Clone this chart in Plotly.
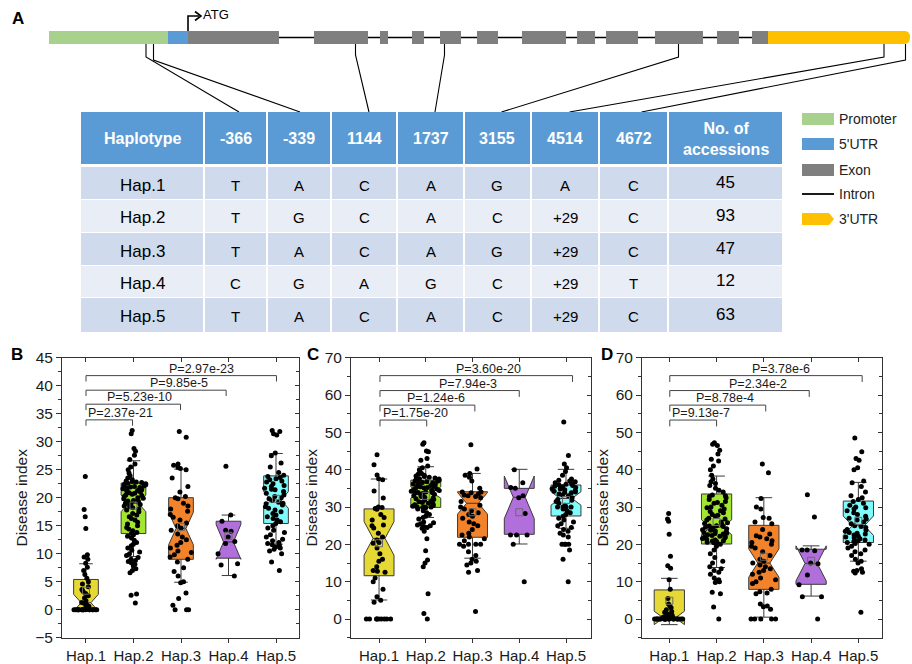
import plotly.graph_objects as go

W, H = 912, 664
FONT = "Liberation Sans, Arial, Helvetica, sans-serif"
NARROW = "Liberation Sans Narrow, Arial Narrow, Liberation Sans, sans-serif"


def X(px):
    return px / W


def Y(py):
    return 1 - py / H


# ---------------- data ----------------
haplotypes = ["Hap.1", "Hap.2", "Hap.3", "Hap.4", "Hap.5"]
snp_sites = ["-366", "-339", "1144", "1737", "3155", "4514", "4672"]
alleles = [
    ["T", "A", "C", "A", "G", "A", "C"],
    ["T", "G", "C", "A", "C", "+29", "C"],
    ["T", "A", "C", "A", "G", "+29", "C"],
    ["C", "G", "A", "G", "C", "+29", "T"],
    ["T", "A", "C", "A", "C", "+29", "C"],
]
accessions = [45, 93, 47, 12, 63]
legend_items = ["Promoter", "5'UTR", "Exon", "Intron", "3'UTR"]

# Panel B disease index
B_hap1 = [23.8, 17.9, 16.6, 14.5, 9.8, 9.4, 9.0, 8.3, 7.6, 7.0, 6.3, 5.6, 5.0, 4.6, 4.1, 3.6, 3.3,
          2.9, 2.5, 2.1, 1.6, 1.3, 1.1, 0.9, 0.6, 0.4] + [0.0] * 19
B_hap2 = [32.0, 31.4, 28.8, 28.3, 27.6, 26.8, 26.0, 25.5, 25.0, 24.4, 23.9, 23.5,
          23.2, 23.0, 22.9, 22.7, 22.6, 22.5, 22.4, 22.3, 22.2, 22.1, 22.0, 21.9, 21.8,
          21.6, 21.4, 21.2, 21.0, 20.8, 20.6, 20.4, 20.2, 20.0, 19.8, 19.6, 19.4, 19.2, 19.0,
          18.8, 18.6, 18.4, 18.2, 18.0, 22.8, 21.7, 21.3, 20.9, 20.5, 19.9, 19.5, 18.9, 18.5,
          17.8, 17.5, 17.2, 16.9, 16.6, 16.3, 16.0, 15.6, 15.3, 15.0, 14.7, 14.4, 14.1, 13.8,
          13.6, 13.4, 13.1, 12.8, 12.4, 12.0, 11.7, 11.4, 11.0, 10.6, 10.3, 10.0, 9.7, 9.3,
          9.0, 8.8, 8.6, 8.4, 8.1, 7.8, 7.3, 7.0, 6.6, 2.8, 2.6, 1.2]
B_hap3 = [31.8, 30.8, 26.0, 25.8, 25.4, 25.2, 25.0, 23.5, 22.0, 21.0, 20.2, 20.0, 19.8,
          19.0, 18.5, 18.0, 17.6, 17.0, 16.5, 16.0, 15.5, 15.0, 14.6, 14.2, 13.5, 13.0,
          12.5, 12.0, 11.5, 11.0, 10.5, 10.2, 9.8, 9.4, 9.0, 8.5, 7.5, 6.8, 6.0, 5.0, 4.8,
          3.0, 2.0, 0.8, 0.0, 0.0, 0.0]
B_hap4 = [25.6, 16.9, 15.8, 14.2, 14.0, 13.0, 12.2, 11.8, 10.0, 8.2, 8.0, 6.0]
B_hap5 = [32.0, 31.8, 31.4, 31.2, 28.0, 27.5, 26.2, 25.5, 24.5, 24.0, 23.8, 23.6, 23.4,
          23.2, 23.0, 22.8, 22.5, 22.2, 22.0, 21.7, 21.4, 21.1, 20.8, 20.5, 20.2, 20.0,
          19.8, 19.5, 19.2, 19.0, 18.7, 18.4, 18.1, 17.8, 17.5, 17.2, 16.9, 16.6, 16.3,
          16.0, 15.7, 15.4, 15.0, 14.6, 14.2, 13.8, 13.4, 13.0, 12.6, 12.3, 12.0, 11.8,
          11.6, 11.5, 11.2, 11.0, 10.8, 10.5, 10.0, 8.5, 7.0, 21.5, 18.9]
B_q1 = [0.0, 13.6, 9.0, 9.2, 15.4]
B_median = [1.25, 19.0, 14.5, 12.1, 19.6]
B_q3 = [5.4, 22.6, 20.0, 15.8, 23.9]
B_lower = [0.0, 9.5, 4.9, 6.1, 11.7]
B_upper = [8.2, 26.6, 25.1, 16.9, 27.9]
B_notch = [1.5, 1.5, 2.9, 3.1, 1.5]
B_mean = [3.4, 18.6, 14.8, 13.2, 19.8]
B_pvalues = ["P=2.37e-21", "P=5.23e-10", "P=9.85e-5", "P=2.97e-23"]

# Panel C disease index
C_hap1 = [44.0, 41.3, 38.6, 37.6, 37.3, 34.3, 32.4, 30.0, 29.9, 29.6, 29.4, 28.0, 27.2,
          26.5, 25.2, 25.0, 24.4, 23.0, 22.0, 21.2, 20.5, 20.3, 19.0, 17.5, 16.0, 15.5,
          14.0, 13.0, 12.8, 12.5, 11.0, 10.0, 8.0, 6.0, 5.0, 4.5] + [0.0] * 9
C_hap2 = [47.2, 46.8, 45.0, 44.8, 43.0, 42.5, 41.0, 40.5, 40.0, 39.5, 39.0, 38.8, 38.5,
          38.2, 38.0, 37.8, 37.6, 37.4, 37.2, 37.0, 36.8, 36.6, 36.4, 36.2, 36.0, 35.8,
          35.6, 35.4, 35.2, 35.0, 34.8, 34.6, 34.4, 34.2, 34.0, 33.9, 33.8, 37.5, 36.5,
          35.5, 34.5, 34.1, 33.8, 35.1, 36.9, 38.3, 33.6, 33.4, 33.2, 33.0, 32.8, 32.6,
          32.4, 32.2, 32.0, 31.8, 31.6, 31.4, 31.2, 31.0, 30.8, 30.6, 30.4, 30.2, 30.0,
          30.0, 29.9, 29.8, 30.1, 29.5, 29.0, 28.5, 28.0, 27.5, 27.2, 26.8, 26.0, 25.8,
          25.5, 25.2, 25.0, 24.8, 24.5, 24.3, 21.5, 18.3, 15.8, 15.0, 14.0, 6.8, 1.5, 0.0,
          23.5]
C_hap3 = [46.7, 40.2, 39.0, 38.5, 38.0, 37.0, 35.0, 34.0, 34.0, 33.8, 33.5, 33.2, 33.0,
          32.8, 32.5, 31.5, 30.5, 30.0, 29.5, 29.0, 28.5, 28.0, 27.0, 26.0, 25.0, 24.0,
          23.0, 22.0, 21.5, 20.0, 20.0, 20.0, 20.0, 19.5, 18.0, 17.0, 16.0, 15.5, 15.0,
          14.5, 13.0, 12.5, 25.5, 22.5, 21.0, 2.0, 27.5]
C_hap4 = [40.0, 36.5, 35.2, 35.0, 33.0, 32.5, 28.3, 22.5, 22.5, 22.5, 20.0, 10.0]
C_hap5 = [52.8, 43.8, 41.5, 40.5, 39.5, 38.5, 37.5, 37.2, 37.0, 36.8, 36.5, 36.3, 36.0,
          35.8, 35.6, 35.4, 35.2, 35.0, 34.8, 34.6, 34.4, 34.2, 34.0, 33.8, 33.5, 33.2,
          33.0, 32.5, 32.0, 31.5, 31.0, 30.5, 30.0, 30.0, 30.0, 30.0, 29.5, 29.0, 28.5,
          28.0, 27.5, 27.0, 26.5, 26.0, 25.5, 25.0, 24.5, 24.0, 23.5, 23.0, 22.5, 22.0,
          20.0, 20.0, 20.0, 20.0, 18.5, 16.0, 10.0, 36.1, 34.9, 33.9, 31.8]
C_q1 = [11.6, 29.9, 21.9, 22.7, 27.6]
C_median = [21.6, 33.9, 31.0, 32.6, 32.3]
C_q3 = [29.5, 37.2, 34.1, 35.0, 35.9]
C_lower = [5.1, 27.2, 16.3, 20.1, 24.3]
C_upper = [37.5, 40.8, 39.0, 40.1, 40.1]
C_notch = [4.5, 1.5, 2.9, 5.7, 1.8]
C_mean = [20.3, 33.0, 28.6, 28.6, 31.9]
C_pvalues = ["P=1.75e-20", "P=1.24e-6", "P=7.94e-3", "P=3.60e-20"]

# Panel D disease index
D_hap1 = [28.3, 26.8, 26.2, 22.7, 16.8, 14.3, 13.6, 10.5, 8.0, 5.5, 4.0, 3.5, 3.0, 2.5,
          2.0, 1.8, 1.5, 1.2, 1.0, 0.8, 0.6, 0.5, 0.4, 0.3, 0.2] + [0.0] * 20
D_hap2 = [47.2, 46.8, 46.5, 45.2, 44.2, 42.8, 42.3, 41.0, 40.0, 38.5, 37.5, 36.8, 36.3,
          35.8, 35.0, 34.5, 34.0, 33.2, 33.0, 32.5, 32.0, 31.5, 31.0, 30.5, 30.0, 29.5,
          29.0, 28.5, 28.0, 27.5, 27.0, 26.5, 26.0, 25.6, 25.3, 25.0, 24.8, 24.6, 24.4,
          24.2, 24.0, 23.8, 23.6, 23.4, 23.2, 23.0, 22.8, 22.6, 22.4, 22.2, 22.0, 21.8,
          21.6, 21.4, 21.2, 21.0, 20.8, 20.6, 20.4, 20.2, 20.0, 23.9, 22.9, 21.9, 20.9,
          19.5, 18.5, 17.5, 16.5, 15.5, 15.0, 14.0, 13.5, 13.0, 12.5, 12.0, 11.0, 10.5,
          10.2, 10.0, 9.8, 7.2, 6.8, 3.2, 0.0, 32.8, 31.2, 29.8, 28.8, 27.8, 26.8, 25.8,
          24.9]
D_hap3 = [41.5, 39.2, 32.3, 30.0, 29.5, 27.2, 27.0, 26.0, 25.5, 24.0, 22.8, 22.3, 22.0,
          21.5, 21.0, 20.5, 20.0, 19.5, 19.0, 18.0, 17.0, 16.0, 15.5, 15.0, 14.5, 14.0,
          13.5, 13.0, 12.5, 12.0, 11.0, 10.5, 10.0, 9.5, 8.0, 7.3, 7.0, 6.8, 4.0, 3.5,
          3.3, 2.6, 0.0, 0.0, 0.0, 0.0, 0.0]
D_hap4 = [33.3, 27.3, 18.5, 18.5, 18.3, 15.0, 14.8, 11.8, 9.2, 6.0, 6.0, 0.0]
D_hap5 = [48.5, 44.8, 43.0, 42.5, 40.5, 40.0, 37.0, 36.5, 35.5, 34.0, 33.0, 32.5, 32.0,
          31.5, 31.0, 30.5, 30.0, 29.5, 29.0, 28.5, 28.0, 27.5, 27.0, 26.5, 26.0, 25.5,
          25.0, 24.5, 24.0, 23.8, 23.5, 23.2, 23.0, 22.8, 22.5, 22.2, 22.0, 21.8, 21.5,
          21.2, 21.0, 20.8, 20.5, 20.2, 20.0, 19.5, 19.0, 18.5, 18.0, 17.5, 17.0, 16.0,
          15.5, 15.0, 13.5, 13.0, 12.8, 12.5, 12.3, 1.8, 24.8, 26.8, 29.8]
D_q1 = [0.0, 20.1, 7.95, 9.3, 20.5]
D_median = [0.3, 24.6, 15.0, 14.9, 25.0]
D_q3 = [7.8, 33.5, 25.1, 18.7, 31.6]
D_lower = [0.0, 13.8, 0.5, 6.15, 15.5]
D_upper = [10.9, 38.3, 32.5, 18.7, 36.6]
D_notch = [1.8, 2.0, 3.8, 4.7, 2.6]
D_mean = [4.9, 26.0, 16.7, 15.6, 26.3]
D_pvalues = ["P=9.13e-7", "P=8.78e-4", "P=2.34e-2", "P=3.78e-6"]

# ---------------- styles / layout geometry (pixels) ----------------
box_colors = ["#E6D835", "#A2E632", "#F2832B", "#B16FDB", "#80FBFB"]
part_colors = {"promoter": "#A9D18E", "utr5": "#5B9BD5", "exon": "#7F7F7F", "utr3": "#FFC000"}
gene_parts = [("promoter", 49, 168), ("utr5", 168, 188),
              ("exon", 188, 279), ("exon", 314, 368), ("exon", 380, 388), ("exon", 412, 424),
              ("exon", 440, 461), ("exon", 477, 498), ("exon", 522, 566), ("exon", 577, 595),
              ("exon", 606, 638), ("exon", 655, 703), ("exon", 717, 739), ("exon", 752, 768)]
utr3_span = (768, 910)
bar_top, bar_bot = 31, 44
connectors = [(146, 57, 239), (153.5, 60, 300), (355.5, 55, 369), (444.5, 55, 435),
              (678.5, 57, 501.5), (884, 57, 569.5), (905.5, 60, 641.5)]
col_edges = [80, 204, 267, 331, 397, 464, 531, 599, 668, 783]
header_span = (112, 164)
row_spans = [(167, 199), (200, 232), (233, 265), (266, 297), (298, 332)]
row_fills = ["#CFDAEC", "#E9EDF6", "#CFDAEC", "#E9EDF6", "#CFDAEC"]

fig = go.Figure()
shapes = []
annotations = []

# ---- Panel A: gene model ----
shapes.append(dict(type="line", xref="paper", yref="paper", x0=X(279), x1=X(768),
                   y0=Y((bar_top + bar_bot) / 2), y1=Y((bar_top + bar_bot) / 2),
                   line=dict(color="black", width=1.6)))
for kind, a, b in gene_parts:
    shapes.append(dict(type="rect", xref="paper", yref="paper", x0=X(a), x1=X(b),
                       y0=Y(bar_bot), y1=Y(bar_top), fillcolor=part_colors[kind],
                       line=dict(width=0)))
u0, u1 = utr3_span
shapes.append(dict(type="path", xref="paper", yref="paper",
                   path=(f"M {X(u0)},{Y(bar_top)} L {X(u1-5)},{Y(bar_top)} "
                         f"Q {X(u1)},{Y(bar_top)} {X(u1)},{Y((bar_top+bar_bot)/2)} "
                         f"Q {X(u1)},{Y(bar_bot)} {X(u1-5)},{Y(bar_bot)} L {X(u0)},{Y(bar_bot)} Z"),
                   fillcolor=part_colors["utr3"], line=dict(width=0)))
# ATG arrow
shapes.append(dict(type="path", xref="paper", yref="paper",
                   path=f"M {X(188)},{Y(31)} L {X(188)},{Y(16)} L {X(199)},{Y(16)}",
                   line=dict(color="black", width=1.6)))
shapes.append(dict(type="path", xref="paper", yref="paper",
                   path=f"M {X(195)},{Y(11.5)} L {X(201)},{Y(16)} L {X(195)},{Y(20.5)}",
                   line=dict(color="black", width=1.6)))
annotations.append(dict(xref="paper", yref="paper", x=X(201), y=Y(14), text="ATG",
                        showarrow=False, xanchor="left", yanchor="middle",
                        font=dict(family=FONT, size=13, color="black")))
# connector lines
for xb, yd, xt in connectors:
    shapes.append(dict(type="path", xref="paper", yref="paper",
                       path=f"M {X(xb)},{Y(bar_bot)} L {X(xb)},{Y(yd)} L {X(xt)},{Y(112)}",
                       line=dict(color="black", width=1.1)))

# ---- Table ----
header_texts = ["Haplotype"] + snp_sites + ["No. of<br>accessions"]
for j in range(len(col_edges) - 1):
    a, b = col_edges[j], col_edges[j + 1]
    shapes.append(dict(type="rect", xref="paper", yref="paper", x0=X(a + 1), x1=X(b - 1),
                       y0=Y(header_span[1]), y1=Y(header_span[0]), fillcolor="#5B9BD5",
                       line=dict(width=0)))
    annotations.append(dict(xref="paper", yref="paper", x=X((a + b) / 2),
                            y=Y(sum(header_span) / 2 + 1), text=f"<b>{header_texts[j]}</b>",
                            showarrow=False, xanchor="center", yanchor="middle",
                            font=dict(family=NARROW, size=16, color="white")))
for i, hap in enumerate(haplotypes):
    r0, r1 = row_spans[i]
    cells = [hap] + alleles[i] + [str(accessions[i])]
    for j in range(len(col_edges) - 1):
        a, b = col_edges[j], col_edges[j + 1]
        shapes.append(dict(type="rect", xref="paper", yref="paper", x0=X(a + 1), x1=X(b - 1),
                           y0=Y(r1), y1=Y(r0), fillcolor=row_fills[i], line=dict(width=0)))
        if j == 0:
            size, dy = 17, 2
        elif j == len(col_edges) - 2:
            size, dy = 17, -1
        else:
            size, dy = 15, 2
        annotations.append(dict(xref="paper", yref="paper", x=X((a + b) / 2),
                                y=Y((r0 + r1) / 2 + dy), text=cells[j], showarrow=False,
                                xanchor="center", yanchor="middle",
                                font=dict(family=NARROW, size=size, color="black")))

# ---- Legend of panel A ----
leg_y = [119, 144, 170, 194, 219]
for k, name in enumerate(legend_items):
    yc = leg_y[k]
    if name == "Intron":
        shapes.append(dict(type="line", xref="paper", yref="paper", x0=X(802), x1=X(834),
                           y0=Y(yc), y1=Y(yc), line=dict(color="black", width=1.8)))
    elif name == "3'UTR":
        shapes.append(dict(type="path", xref="paper", yref="paper",
                           path=(f"M {X(802)},{Y(yc-6)} L {X(829)},{Y(yc-6)} L {X(834)},{Y(yc)} "
                                 f"L {X(829)},{Y(yc+6)} L {X(802)},{Y(yc+6)} Z"),
                           fillcolor=part_colors["utr3"], line=dict(width=0)))
    else:
        key = {"Promoter": "promoter", "5'UTR": "utr5", "Exon": "exon"}[name]
        shapes.append(dict(type="rect", xref="paper", yref="paper", x0=X(802), x1=X(834),
                           y0=Y(yc + 6), y1=Y(yc - 6), fillcolor=part_colors[key],
                           line=dict(width=0)))
    annotations.append(dict(xref="paper", yref="paper", x=X(837), y=Y(yc), text=name,
                            showarrow=False, xanchor="left", yanchor="middle",
                            font=dict(family=FONT, size=14, color="#222")))

annotations.append(dict(xref="paper", yref="paper", x=X(18), y=Y(18), text="<b>A</b>",
                        showarrow=False, xanchor="center", yanchor="middle",
                        font=dict(family=FONT, size=17, color="black")))

# ---------------- Box plot panels ----------------
panels = [
    dict(tag="B", k=1, px=(62, 299), xr=(0.495, 5.484), yr=(-5, 45), dtick=5, mdt=2.5,
         values=[B_hap1, B_hap2, B_hap3, B_hap4, B_hap5], q1=B_q1, med=B_median, q3=B_q3,
         lo=B_lower, hi=B_upper, notch=B_notch, mean=B_mean, pv=B_pvalues,
         br_y=[33.9, 36.7, 39.2, 41.8], br_x=[1.0, 1.98, 2.99, 3.95, 5.01],
         txt_x=[1.73, 2.13, 2.96, 3.43], drop=1.05, label=(17, 354), boxw=0.52),
    dict(tag="C", k=2, px=(351, 591), xr=(0.4, 5.535), yr=(-5, 70), dtick=10, mdt=5,
         values=[C_hap1, C_hap2, C_hap3, C_hap4, C_hap5], q1=C_q1, med=C_median, q3=C_q3,
         lo=C_lower, hi=C_upper, notch=C_notch, mean=C_mean, pv=C_pvalues,
         br_y=[53.3, 57.3, 61.2, 65.2], br_x=[1.02, 2.02, 3.05, 4.0, 5.14],
         txt_x=[1.77, 2.22, 2.9, 3.34], drop=1.7, label=(313, 354), boxw=0.64),
    dict(tag="D", k=3, px=(642, 882), xr=(0.422, 5.5), yr=(-5, 70), dtick=10, mdt=5,
         values=[D_hap1, D_hap2, D_hap3, D_hap4, D_hap5], q1=D_q1, med=D_median, q3=D_q3,
         lo=D_lower, hi=D_upper, notch=D_notch, mean=D_mean, pv=D_pvalues,
         br_y=[53.3, 57.3, 61.2, 65.2], br_x=[1.01, 2.0, 3.04, 3.96, 5.08],
         txt_x=[1.67, 2.17, 2.87, 3.36], drop=1.7, label=(607, 354), boxw=0.64),
]
positions = [1, 2, 3, 4, 5]
plot_top, plot_bot = 357.7, 637.7
layout_axes = {}

for p in panels:
    k = p["k"]
    xa = "x" if k == 1 else f"x{k}"
    ya = "y" if k == 1 else f"y{k}"
    mk = k + 3
    xm, ym = f"x{mk}", f"y{mk}"
    # boxes
    for i, pos in enumerate(positions):
        fig.add_trace(go.Box(
            x=[pos], q1=[p["q1"][i]], median=[p["med"][i]], q3=[p["q3"][i]],
            lowerfence=[p["lo"][i]], upperfence=[p["hi"][i]], notchspan=[p["notch"][i]],
            notched=True, notchwidth=0.3, boxpoints=False, width=p["boxw"], whiskerwidth=0.55,
            fillcolor=box_colors[i], line=dict(color="#3a3a3a", width=1),
            xaxis=xa, yaxis=ya, showlegend=False, hoverinfo="skip"))
    # mean squares
    fig.add_trace(go.Scatter(x=positions, y=p["mean"], mode="markers", xaxis=xa, yaxis=ya,
                             marker=dict(symbol="square-open", size=7, color="#6a6a6a",
                                         line=dict(width=1)),
                             showlegend=False, hoverinfo="skip"))
    # sample points
    for i, pos in enumerate(positions):
        fig.add_trace(go.Box(
            y=p["values"][i], x0=pos, boxpoints="all", jitter=1.0, pointpos=0,
            width=p["boxw"], fillcolor="rgba(0,0,0,0)", line=dict(width=0),
            marker=dict(color="black", size=5), xaxis=xa, yaxis=ya, showlegend=False,
            hoveron="points"))
    # dummy for mirror axes
    fig.add_trace(go.Scatter(x=[None], y=[None], xaxis=xm, yaxis=ym, showlegend=False,
                             hoverinfo="skip"))

    dom_x = [X(p["px"][0]), X(p["px"][1])]
    dom_y = [Y(plot_bot), Y(plot_top)]
    axis_common = dict(showgrid=False, zeroline=False, automargin=False,
                       linecolor="#333", linewidth=1, tickcolor="#333")
    layout_axes["xaxis" if k == 1 else f"xaxis{k}"] = dict(
        domain=dom_x, anchor=ya, range=list(p["xr"]), tickmode="array", tickvals=positions,
        ticktext=haplotypes, ticks="outside", ticklen=4, showline=True, mirror=True,
        tickfont=dict(family=FONT, size=15, color="#1a1a1a"), **axis_common)
    layout_axes["yaxis" if k == 1 else f"yaxis{k}"] = dict(
        domain=dom_y, anchor=xa, range=list(p["yr"]), tick0=0, dtick=p["dtick"],
        ticks="outside", ticklen=5, showline=True, mirror=True,
        minor=dict(dtick=p["mdt"], tick0=0, ticks="outside", ticklen=3, tickcolor="#333"),
        tickfont=dict(family=FONT, size=15.5, color="#1a1a1a"),
        title=dict(text="Disease index", font=dict(family=FONT, size=15.5, color="#1a1a1a"),
                   standoff=3), **axis_common)
    layout_axes[f"xaxis{mk}"] = dict(
        overlaying=xa, side="top", anchor=ym, range=list(p["xr"]), tickmode="array",
        tickvals=positions, ticks="inside", ticklen=4, showticklabels=False, showline=False,
        showgrid=False, zeroline=False, tickcolor="#333", automargin=False)
    layout_axes[f"yaxis{mk}"] = dict(
        overlaying=ya, side="right", anchor=xm, range=list(p["yr"]), tick0=0,
        dtick=p["dtick"], ticks="inside", ticklen=4, showticklabels=False, showline=False,
        minor=dict(dtick=p["mdt"], tick0=0, ticks="inside", ticklen=3, tickcolor="#333"),
        showgrid=False, zeroline=False, tickcolor="#333", automargin=False)

    # significance brackets
    for j in range(4):
        x1 = p["br_x"][0]
        x2 = p["br_x"][j + 1]
        yb = p["br_y"][j]
        d = p["drop"]
        shapes.append(dict(type="path", xref=xa, yref=ya,
                           path=f"M {x1},{yb-d} L {x1},{yb} L {x2},{yb} L {x2},{yb-d}",
                           line=dict(color="#444", width=1)))
        annotations.append(dict(xref=xa, yref=ya, x=p["txt_x"][j], y=yb, text=p["pv"][j],
                                showarrow=False, xanchor="center", yanchor="bottom",
                                yshift=-2, font=dict(family=FONT, size=12.5, color="#1a1a1a")))
    annotations.append(dict(xref="paper", yref="paper", x=X(p["label"][0]), y=Y(p["label"][1]),
                            text=f"<b>{p['tag']}</b>", showarrow=False, xanchor="center",
                            yanchor="middle", font=dict(family=FONT, size=17, color="black")))

fig.update_layout(
    template="none", width=W, height=H, autosize=False,
    margin=dict(l=0, r=0, t=0, b=0), paper_bgcolor="white", plot_bgcolor="white",
    font=dict(family=FONT, color="#1a1a1a"), boxmode="overlay", showlegend=False,
    shapes=shapes, annotations=annotations, **layout_axes)

fig.write_html("out.html", config={"displayModeBar": False},
               post_script="document.body.style.margin='0px';document.body.style.padding='0px';")
